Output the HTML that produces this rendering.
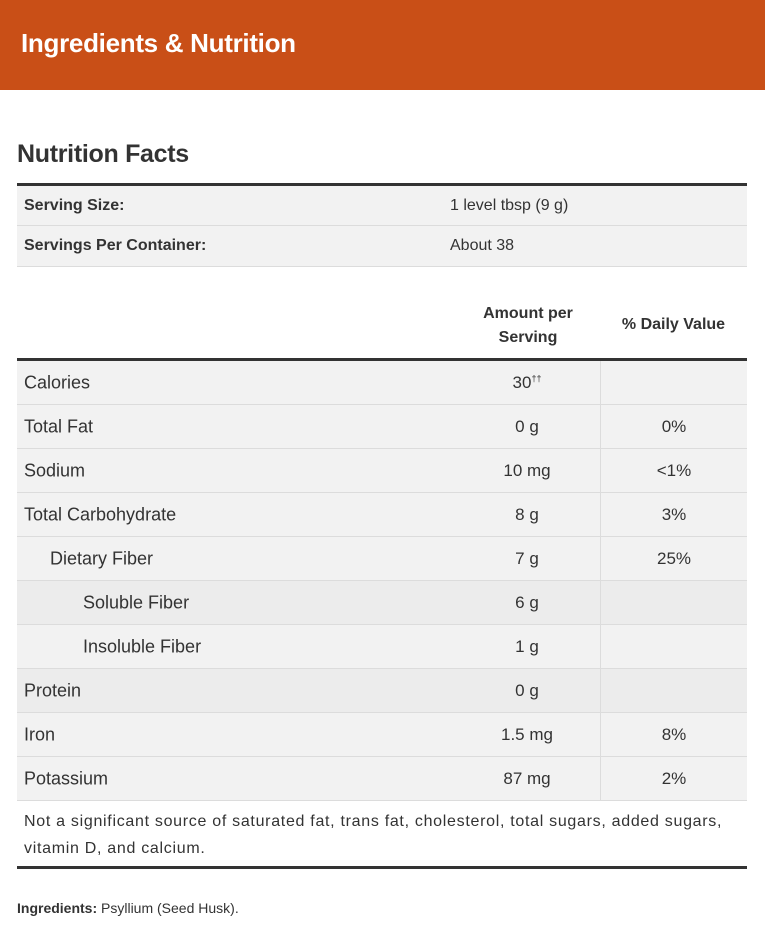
<!DOCTYPE html>
<html><head><meta charset="utf-8"><style>
*{margin:0;padding:0;box-sizing:border-box}
body{width:765px;height:935px;background:#fff;font-family:"Liberation Sans",sans-serif;color:#333;position:relative;overflow:hidden}
.hdr{position:absolute;left:0;top:0;width:765px;height:90px;background:#c94f17;color:#fff;font-size:26px;font-weight:bold;padding:28px 0 0 21px;letter-spacing:-0.3px}
.a{position:absolute}
.row{position:absolute;left:17px;width:730px;border-bottom:1px solid #dcdcdc;font-size:18px}
.row span{position:absolute;top:50%;transform:translateY(-50%)}
.c{text-align:center;font-size:17px}
</style></head><body>
<div class="hdr">Ingredients &amp; Nutrition</div>
<div class="a" style="left:17px;top:140px;font-size:25px;font-weight:bold;letter-spacing:-0.3px">Nutrition Facts</div>
<div class="a" style="left:17px;top:183px;width:730px;height:3px;background:#333"></div>
<div class="row" style="top:186px;height:40px;background:#f2f2f2;font-size:16px"><span style="left:7px;font-weight:bold">Serving Size:</span><span style="left:433px">1 level tbsp (9 g)</span></div>
<div class="row" style="top:226px;height:41px;background:#f2f2f2;font-size:16px"><span style="left:7px;font-weight:bold">Servings Per Container:</span><span style="left:433px">About 38</span></div>
<div class="a" style="left:460px;top:302px;width:136px;text-align:center;font-size:16px;font-weight:bold;line-height:24px">Amount per<br>Serving</div>
<div class="a" style="left:600px;top:316px;width:147px;text-align:center;font-size:16px;font-weight:bold">% Daily Value</div>
<div class="a" style="left:17px;top:358px;width:730px;height:3px;background:#333"></div>
<div class="a" style="left:600px;top:361px;width:1px;height:439px;background:#dcdcdc;z-index:2"></div>
<div class="row" style="top:361px;height:44px;background:#f2f2f2"><span style="left:7px">Calories</span><span style="left:470px;width:80px" class="c">30<sup style="font-size:9px">††</sup></span></div>
<div class="row" style="top:405px;height:44px;background:#f2f2f2"><span style="left:7px">Total Fat</span><span style="left:470px;width:80px" class="c">0 g</span><span style="left:600px;width:114px" class="c">0%</span></div>
<div class="row" style="top:449px;height:44px;background:#f2f2f2"><span style="left:7px">Sodium</span><span style="left:470px;width:80px" class="c">10 mg</span><span style="left:600px;width:114px" class="c">&lt;1%</span></div>
<div class="row" style="top:493px;height:44px;background:#f2f2f2"><span style="left:7px">Total Carbohydrate</span><span style="left:470px;width:80px" class="c">8 g</span><span style="left:600px;width:114px" class="c">3%</span></div>
<div class="row" style="top:537px;height:44px;background:#f2f2f2"><span style="left:33px">Dietary Fiber</span><span style="left:470px;width:80px" class="c">7 g</span><span style="left:600px;width:114px" class="c">25%</span></div>
<div class="row" style="top:581px;height:44px;background:#ececec"><span style="left:66px">Soluble Fiber</span><span style="left:470px;width:80px" class="c">6 g</span></div>
<div class="row" style="top:625px;height:44px;background:#f2f2f2"><span style="left:66px">Insoluble Fiber</span><span style="left:470px;width:80px" class="c">1 g</span></div>
<div class="row" style="top:669px;height:44px;background:#ececec"><span style="left:7px">Protein</span><span style="left:470px;width:80px" class="c">0 g</span></div>
<div class="row" style="top:713px;height:44px;background:#f2f2f2"><span style="left:7px">Iron</span><span style="left:470px;width:80px" class="c">1.5 mg</span><span style="left:600px;width:114px" class="c">8%</span></div>
<div class="row" style="top:757px;height:44px;background:#f2f2f2"><span style="left:7px">Potassium</span><span style="left:470px;width:80px" class="c">87 mg</span><span style="left:600px;width:114px" class="c">2%</span></div>
<div class="a" style="left:24px;top:808px;width:730px;font-size:16px;line-height:27px;white-space:nowrap;letter-spacing:0.7px">Not a significant source of saturated fat, trans fat, cholesterol, total sugars, added sugars,<br>vitamin D, and calcium.</div>
<div class="a" style="left:17px;top:866px;width:730px;height:3px;background:#333"></div>
<div class="a" style="left:17px;top:900px;font-size:14px"><b>Ingredients:</b> Psyllium (Seed Husk).</div>
</body></html>
